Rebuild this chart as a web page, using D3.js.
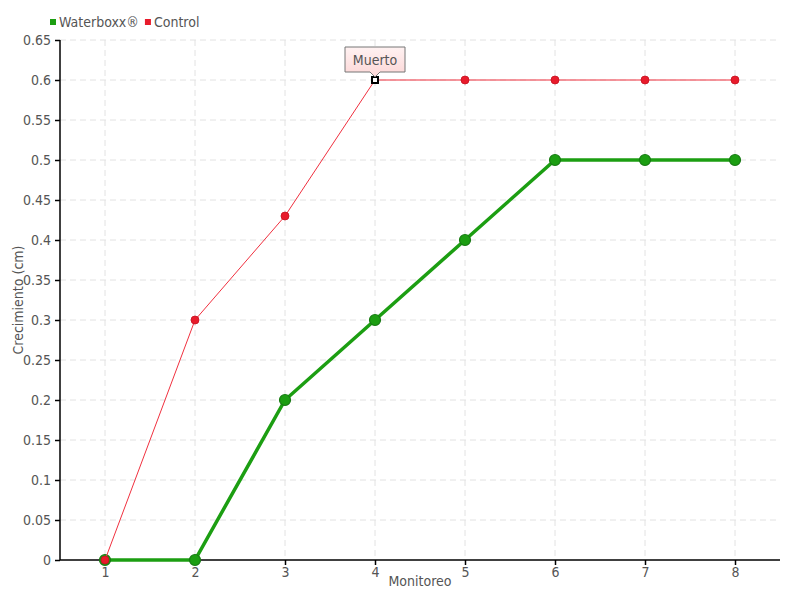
<!DOCTYPE html>
<html>
<head>
<meta charset="utf-8">
<script src="https://cdn.jsdelivr.net/npm/d3@7"></script>
<style>
	body { margin: 0; background: #fff; }
	svg text { font-family: "DejaVu Sans Condensed", "Liberation Sans Narrow", sans-serif; fill: #555; }
</style>
</head>
<body>
<svg id="chart" width="800" height="600"></svg>
<script>
const monitoreo = [1, 2, 3, 4, 5, 6, 7, 8];
const waterboxx = [0, 0, 0.2, 0.3, 0.4, 0.5, 0.5, 0.5];
const control = [0, 0.3, 0.43, 0.6, 0.6, 0.6, 0.6, 0.6];
const yTicks = [0, 0.05, 0.1, 0.15, 0.2, 0.25, 0.3, 0.35, 0.4, 0.45, 0.5, 0.55, 0.6, 0.65];
const yTickLabels = ["0", "0.05", "0.1", "0.15", "0.2", "0.25", "0.3", "0.35", "0.4", "0.45", "0.5", "0.55", "0.6", "0.65"];
const deadIndex = 3; // Control, Monitoreo 4

const svg = d3.select("#chart");
const plotLeft = 60, plotRight = 780, plotTop = 40, plotBottom = 560;

const x = d3.scaleLinear().domain([0.5, 8.5]).range([plotLeft, plotRight]);
const y = d3.scaleLinear().domain([0, 0.65]).range([plotBottom, plotTop]);

// grid
svg.append("g").selectAll("line")
	.data(yTicks.slice(1))
	.enter().append("line")
	.attr("x1", plotLeft).attr("x2", plotRight)
	.attr("y1", d => y(d)).attr("y2", d => y(d))
	.attr("stroke", "#e2e2e2")
	.attr("stroke-dasharray", "6,4");
svg.append("g").selectAll("line")
	.data(monitoreo)
	.enter().append("line")
	.attr("x1", d => x(d)).attr("x2", d => x(d))
	.attr("y1", plotTop).attr("y2", plotBottom)
	.attr("stroke", "#e2e2e2")
	.attr("stroke-dasharray", "6,4");

// axes
const yAxis = svg.append("g")
	.attr("transform", "translate(" + plotLeft + ",0)")
	.call(d3.axisLeft(y).tickValues(yTicks).tickFormat((d, i) => yTickLabels[i]).tickSize(5).tickPadding(4));
const xAxis = svg.append("g")
	.attr("transform", "translate(0," + plotBottom + ")")
	.call(d3.axisBottom(x).tickValues(monitoreo).tickFormat(d3.format("d")).tickSize(5).tickPadding(2));
[xAxis, yAxis].forEach(a => {
	a.select(".domain").attr("stroke", "#000").attr("stroke-width", 1.5);
	a.selectAll(".tick line").attr("stroke", "#000").attr("stroke-width", 1.5);
	a.selectAll("text").style("font-size", "14px").attr("fill", "#555");
});
xAxis.select(".domain").attr("d", "M" + plotLeft + ",0H" + plotRight);
yAxis.select(".domain").attr("d", "M0," + plotTop + "V" + plotBottom);

// axis titles
svg.append("text")
	.attr("x", (plotLeft + plotRight) / 2).attr("y", 586)
	.attr("text-anchor", "middle")
	.style("font-size", "14px")
	.text("Monitoreo");
svg.append("text")
	.attr("transform", "translate(18," + ((plotTop + plotBottom) / 2) + ") rotate(-90)")
	.attr("text-anchor", "middle")
	.attr("dy", "0.35em")
	.style("font-size", "14px")
	.text("Crecimiento (cm)");

const line = d3.line().x((d, i) => x(monitoreo[i])).y(d => y(d));

// Waterboxx series
svg.append("path")
	.datum(waterboxx)
	.attr("fill", "none")
	.attr("stroke", "#1c9e12")
	.attr("stroke-width", 3.5)
	.attr("d", line);
svg.append("g").selectAll("circle")
	.data(waterboxx)
	.enter().append("circle")
	.attr("cx", (d, i) => x(monitoreo[i]))
	.attr("cy", d => y(d))
	.attr("r", 5.5)
	.attr("fill", "#1c9e12")
	.attr("stroke", "#187a14")
	.attr("stroke-width", 1.2);

// Control series
svg.append("path")
	.datum(control)
	.attr("fill", "none")
	.attr("stroke", "#f0303f")
	.attr("stroke-width", 1)
	.attr("d", line);
svg.append("g").selectAll("circle")
	.data(control.map((v, i) => ({ v: v, i: i })).filter(d => d.i !== deadIndex))
	.enter().append("circle")
	.attr("cx", d => x(monitoreo[d.i]))
	.attr("cy", d => y(d.v))
	.attr("r", 4)
	.attr("fill", "#e81b2b")
	.attr("stroke", "#c51020")
	.attr("stroke-width", 0.8);

// dead marker
const dx = x(monitoreo[deadIndex]), dy = y(control[deadIndex]);
svg.append("rect")
	.attr("x", dx - 3).attr("y", dy - 3)
	.attr("width", 6).attr("height", 6)
	.attr("fill", "#fff").attr("stroke", "#000").attr("stroke-width", 2);

// annotation
const defs = svg.append("defs");
const grad = defs.append("linearGradient").attr("id", "tip").attr("x1", 0).attr("y1", 0).attr("x2", 0).attr("y2", 1);
grad.append("stop").attr("offset", "0%").attr("stop-color", "#fff2f2");
grad.append("stop").attr("offset", "100%").attr("stop-color", "#fcd6d6");
const bw = 60, bh = 25, by = dy - 33;
svg.append("path")
	.attr("d", "M" + (dx - bw / 2) + "," + by + "h" + bw + "v" + bh + "h" + (-bw / 2 + 5) + "l-5,5l-5,-5h" + (-bw / 2 + 5) + "z")
	.attr("fill", "url(#tip)")
	.attr("stroke", "#777")
	.attr("stroke-width", 1);
svg.append("text")
	.attr("x", dx).attr("y", by + 18)
	.attr("text-anchor", "middle")
	.style("font-size", "14px")
	.text("Muerto");

// legend
const legendItems = [{ name: "Waterboxx®", color: "#1c9e12" }, { name: "Control", color: "#e81b2b" }];
const legend = svg.append("g").attr("transform", "translate(50,16)");
let lx = 0;
legendItems.forEach(item => {
	legend.append("rect").attr("x", lx).attr("y", 3).attr("width", 6).attr("height", 6).attr("fill", item.color);
	const t = legend.append("text").attr("x", lx + 9).attr("y", 11).style("font-size", "14px").text(item.name);
	lx += 9 + t.node().getComputedTextLength() + 6;
});
</script>
</body>
</html>
